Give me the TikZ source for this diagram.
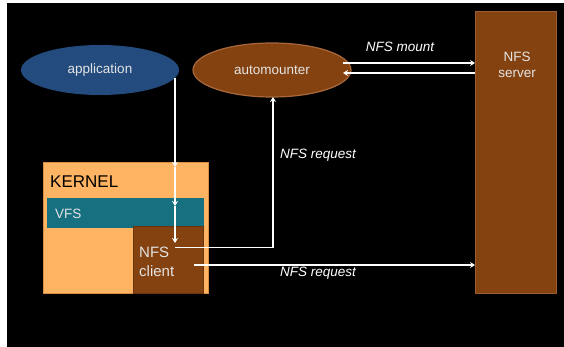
\documentclass[tikz,border=0pt]{standalone}
\usepackage{fontspec}
\setmainfont{Liberation Sans}
\usetikzlibrary{shapes.geometric,arrows.meta}

\definecolor{appblue}{HTML}{234B7D}
\definecolor{nfsbrown}{HTML}{844210}
\definecolor{brownrim}{HTML}{A8683C}
\definecolor{kernelorange}{HTML}{FFB463}
\definecolor{kernelrim}{HTML}{D98E45}
\definecolor{vfsteal}{HTML}{17707F}
\definecolor{softwhite}{HTML}{E4E4E4}

\tikzset{
  oval/.style={ellipse, inner sep=0pt, minimum width=158pt, text=softwhite,
    font=\fontsize{13.5}{16}\selectfont},
  block/.style={rectangle, inner sep=0pt, anchor=north west},
  caption/.style={text=softwhite, inner sep=0pt, font=\fontsize{13.5}{16}\selectfont},
  flow/.style={draw=white, line width=1.4pt, -{Stealth[length=5pt,width=6pt]}},
  wire/.style={draw=white, line width=1.4pt},
  note/.style={text=white, inner sep=0pt, font=\fontsize{13.5}{16}\selectfont\itshape},
}

\begin{document}
\begin{tikzpicture}[x=1pt,y=-1pt]
  % canvas
  \useasboundingbox (0,0) rectangle (564,347);
  \fill[white] (0,0) rectangle (564,347);
  \fill[black] (7,3) rectangle (564,347);

  % user-space processes
  \node[oval, fill=appblue, minimum height=50pt] (app) at (100,70) {application};
  \node[oval, fill=nfsbrown, draw=brownrim, line width=1.2pt, minimum height=54pt] (auto) at (272,70) {automounter};

  % server
  \node[block, fill=nfsbrown, draw=brownrim!70!nfsbrown, line width=0.8pt,
        minimum width=81pt, minimum height=282pt] (server) at (475,11) {};
  \node[caption, align=center, font=\fontsize{13.5}{16}\selectfont] (servertxt) at (517,65) {NFS\\server};

  % kernel with its layers
  \node[block, fill=kernelorange, draw=kernelrim, line width=0.8pt,
        minimum width=165pt, minimum height=131pt] (kernel) at (43,162) {};
  \node[anchor=west, inner sep=0pt, font=\fontsize{17}{20}\selectfont] (kerneltxt) at (50,182) {KERNEL};
  \node[block, fill=vfsteal, minimum width=157pt, minimum height=30pt] (vfs) at (47,198) {};
  \node[caption, anchor=west] (vfstxt) at (55,214) {VFS};
  \node[block, fill=nfsbrown, draw=nfsbrown!80!black, line width=0.6pt,
        minimum width=70pt, minimum height=67pt] (client) at (133,226) {};
  \node[caption, anchor=west, align=left, font=\fontsize{15}{19}\selectfont] (clienttxt) at (139,261.5) {NFS\\client};

  % connector end points
  \coordinate (appdown) at (175,78);
  \coordinate (kin) at (175,167);
  \coordinate (vin) at (175,206);
  \coordinate (cin) at (175,243);
  \coordinate (cout) at (175,247.5);
  \coordinate (turn) at (273,247.5);
  \coordinate (autobot) at (273,97);
  \coordinate (cserv) at (194,265);
  \coordinate (aout) at (343,63);
  \coordinate (ain) at (343,73);

  % system call path from the application
  \draw[flow] (appdown) -- (kin);
  \draw[flow] (kin) -- (vin);
  \draw[flow] (vin) -- (cin);

  % request to the automounter
  \draw[flow] (cout) -- (turn) -- (autobot);
  \node[note, anchor=west] (req1) at (280,155) {NFS request};

  % mount exchange with the server
  \draw[flow] (aout) -- (aout -| server.west);
  \draw[flow] (ain -| server.west) -- (ain);
  \node[note] (mount) at (400,47) {NFS mount};

  % request to the server
  \draw[flow] (cserv) -- (cserv -| server.west);
  \node[note, anchor=west] (req2) at (280,273) {NFS request};
\end{tikzpicture}
\end{document}
